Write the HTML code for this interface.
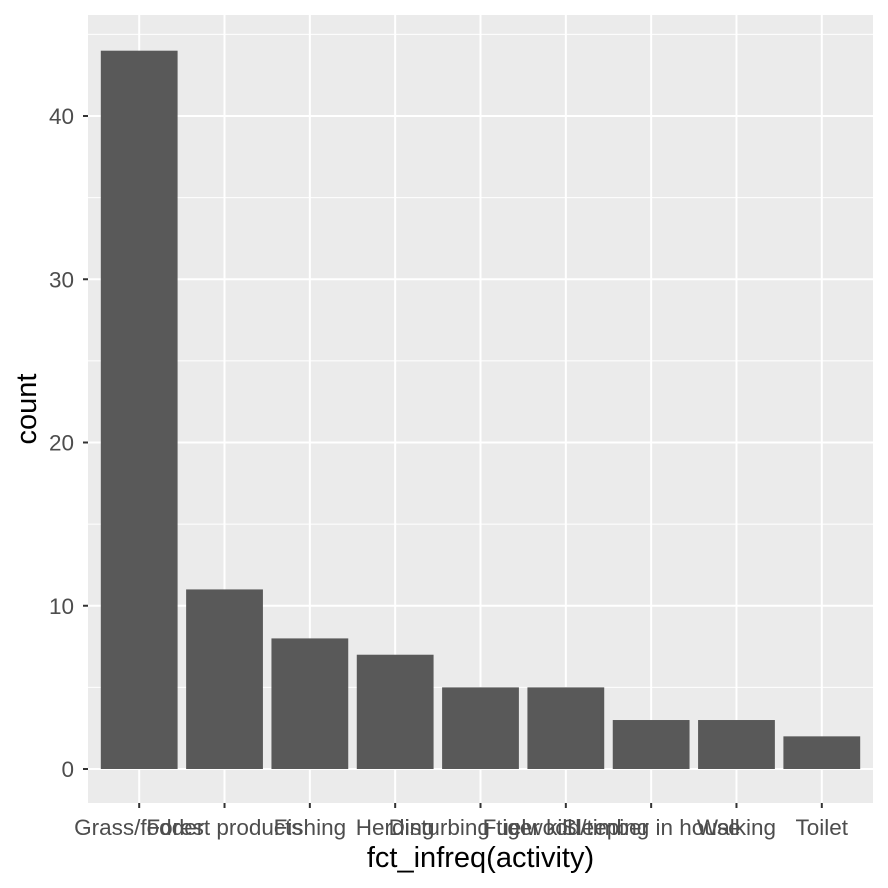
<!DOCTYPE html>
<html><head><meta charset="utf-8"><style>body{margin:0;background:#fff}svg{display:block}text{font-family:"Liberation Sans",sans-serif}</style></head>
<body>
<svg id="c" width="888" height="888"></svg>
<script>
const categories=["Grass/fodder","Forest products","Fishing","Herding","Disturbing tiger kill","Fuelwood/timber","Sleeping in house","Walking","Toilet"];
const counts=[44,11,8,7,5,5,3,3,2];
const yTicks=[0,10,20,30,40];
const svg=document.getElementById('c');const NS="http://www.w3.org/2000/svg";
const L=88,R=873,T=15,B=803;
const n=categories.length;
const xs=i=>L+(i+1-0.4)/(n+0.2)*(R-L);
const bw=0.9/(n+0.2)*(R-L);
const y0=769,y40=116;
const ys=v=>y0+(y40-y0)*v/40;
function el(t,a,p){const e=document.createElementNS(NS,t);for(const k in a)e.setAttribute(k,a[k]);(p||svg).appendChild(e);return e;}
const panel=el('rect',{x:L,y:T,width:R-L,height:B-T,fill:'#ebebeb'});

for(let i=0;i<yTicks.length-1;i++){const m=(yTicks[i]+yTicks[i+1])/2;el('line',{x1:L,x2:R,y1:ys(m),y2:ys(m),stroke:'#fff','stroke-width':1});}
el('line',{x1:L,x2:R,y1:ys(45),y2:ys(45),stroke:'#fff','stroke-width':1});
yTicks.forEach(v=>{el('line',{x1:L,x2:R,y1:ys(v),y2:ys(v),stroke:'#fff','stroke-width':2});
el('line',{x1:L-5,x2:L,y1:ys(v),y2:ys(v),stroke:'#333','stroke-width':2});
const t=el('text',{x:L-14,y:ys(v)+8,'text-anchor':'end','font-size':22.5,fill:'#4d4d4d'});t.textContent=v;
});
categories.forEach((c,i)=>{const x=xs(i);el('line',{x1:x,x2:x,y1:T,y2:B,stroke:'#fff','stroke-width':2});});
categories.forEach((c,i)=>{const x=xs(i);
const b=el('rect',{x:x-bw/2,y:ys(counts[i]),width:bw,height:ys(0)-ys(counts[i]),fill:'#595959'});

el('line',{x1:x,x2:x,y1:B,y2:B+5,stroke:'#333','stroke-width':2});
const t=el('text',{x:x,y:835,'text-anchor':'middle','font-size':22.5,fill:'#4d4d4d'});t.textContent=c;
});
const xt=el('text',{x:(L+R)/2,y:867,'text-anchor':'middle','font-size':29,fill:'#000'});xt.textContent='fct_infreq(activity)';

const yt=el('text',{x:0,y:0,'text-anchor':'middle','font-size':29,fill:'#000',transform:'translate(36,409) rotate(-90)'});yt.textContent='count';

</script>
</body></html>
